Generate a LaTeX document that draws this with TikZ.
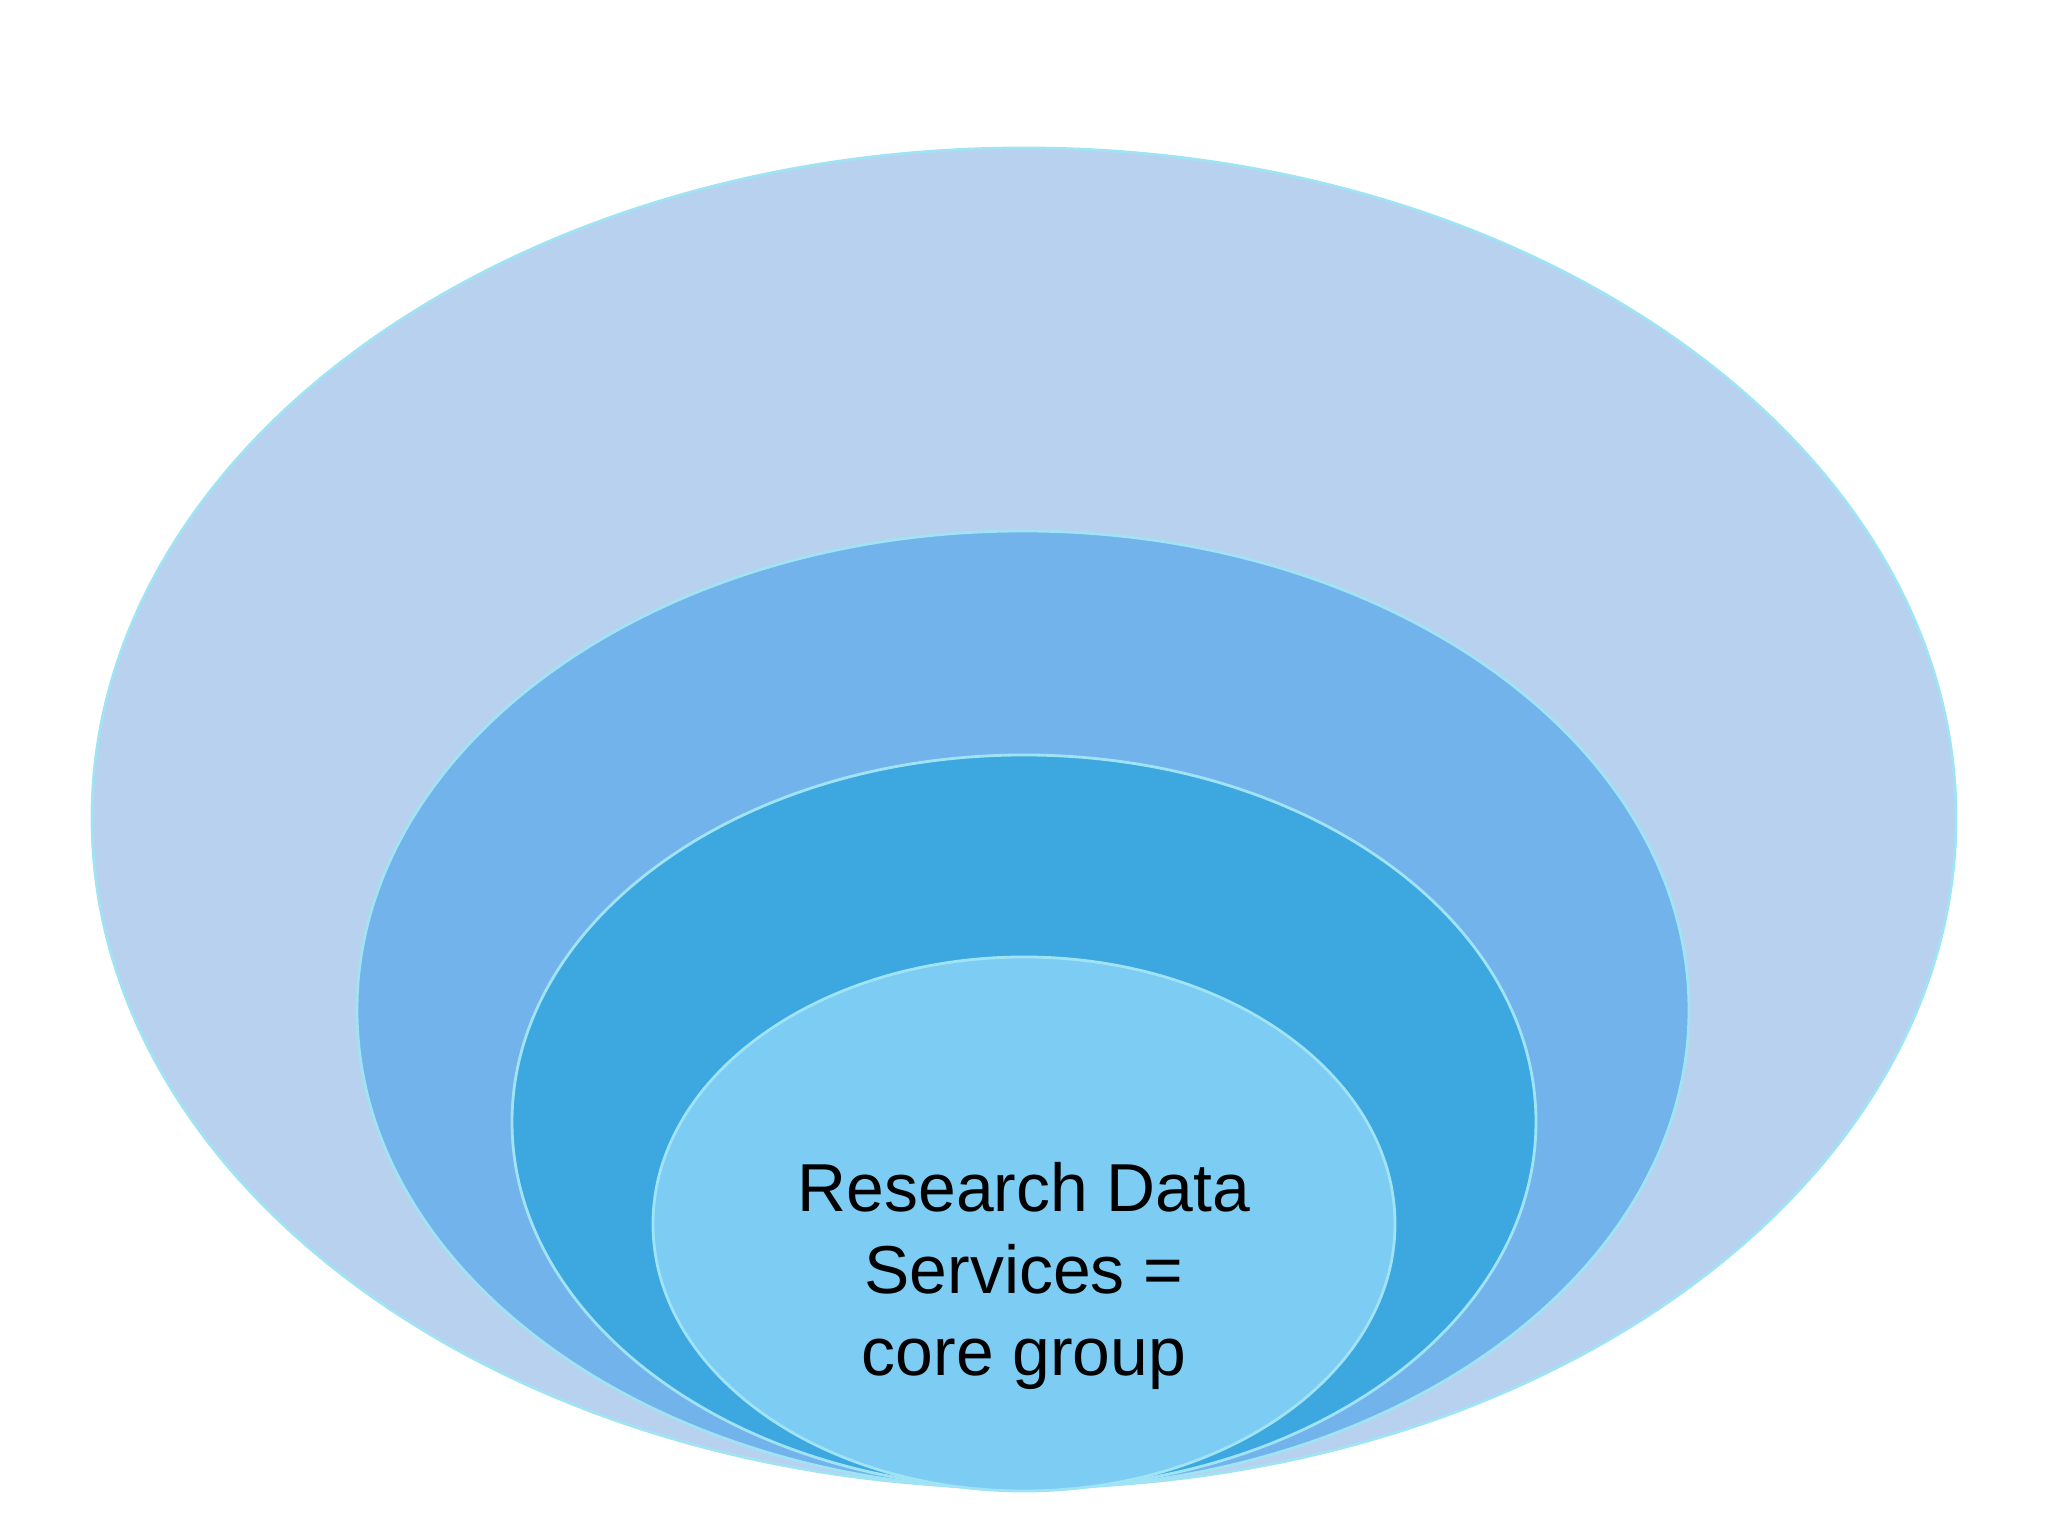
\documentclass[tikz,border=0pt]{standalone}
\usepackage{fontspec}
\setmainfont{Liberation Sans}
\usepackage{xcolor}
\usetikzlibrary{shapes.geometric}

\definecolor{ringA}{HTML}{B8D1EE}
\definecolor{ringB}{HTML}{73B3EB}
\definecolor{ringC}{HTML}{3DA7E0}
\definecolor{ringD}{HTML}{7DCCF3}
\definecolor{rim}{HTML}{9FE3F4}

\begin{document}
\begin{tikzpicture}[ring/.style={ellipse, draw=rim, line width=0.8pt, inner sep=0pt}]
  % Page frame
  \useasboundingbox (0,0) rectangle (20.48,15.36);
  \fill[white] (0,0) rectangle (20.48,15.36);

  % Nested ellipses, largest first
  \node[ring, fill=ringA, minimum width=18.64cm, minimum height=13.40cm] (outer) at (10.24,7.18) {};
  \node[ring, fill=ringB, minimum width=13.32cm, minimum height=9.58cm] (middle) at (10.23,5.26) {};
  \node[ring, fill=ringC, minimum width=10.24cm, minimum height=7.34cm] (inner) at (10.24,4.14) {};
  \node[ring, fill=ringD, minimum width=7.42cm, minimum height=5.34cm] (core) at (10.24,3.12) {};

  \node[align=center, font=\fontsize{19.3}{23.2}\selectfont] (label) at (10.24,2.60) {Research Data\\Services =\\core group};
\end{tikzpicture}
\end{document}
